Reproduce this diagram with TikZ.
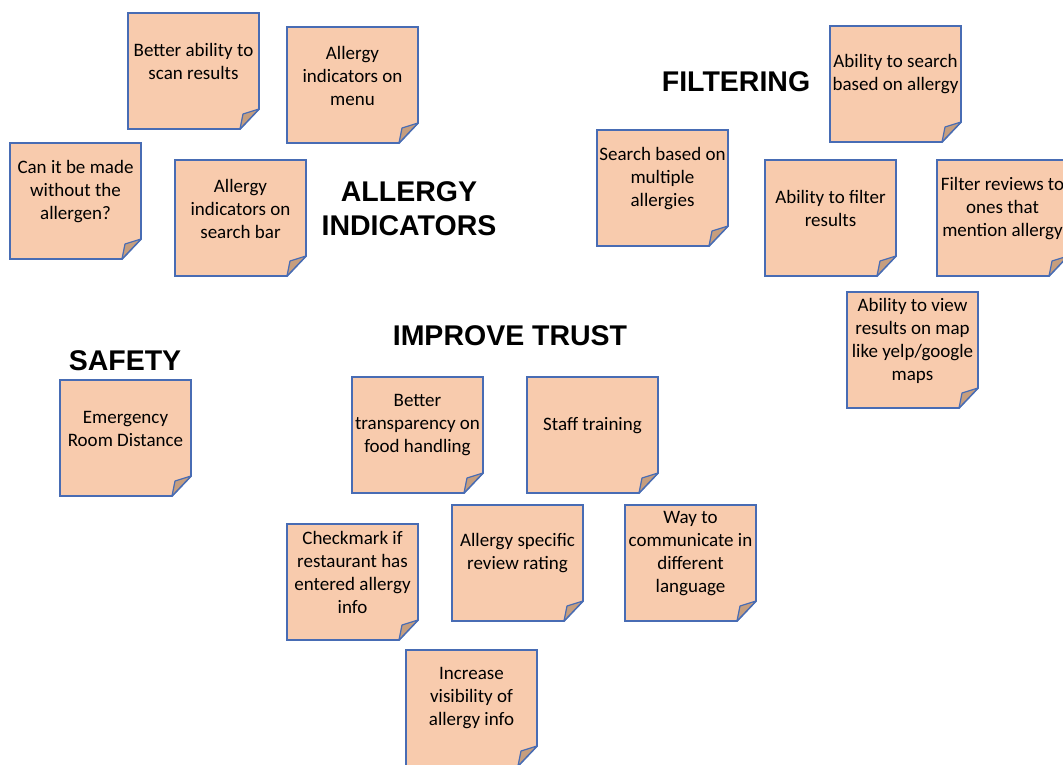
\documentclass[tikz,border=0pt]{standalone}
\usepackage{fontspec}
\setmainfont{Carlito}
\newfontfamily\headfont{Liberation Sans}
\usetikzlibrary{positioning}

\definecolor{notefill}{RGB}{248,203,173}
\definecolor{noteline}{RGB}{72,108,180}
\definecolor{foldfill}{RGB}{198,158,126}

\tikzset{
  notebox/.style={draw=noteline, fill=notefill, line width=1.8pt, line join=miter},
  notefold/.style={draw=noteline, fill=foldfill, line width=1.2pt, line join=round},
  notetext/.style={align=center, inner sep=0pt, font=\fontsize{19}{23}\selectfont},
  heading/.style={align=center, inner sep=0pt, font=\headfont\bfseries\fontsize{28.5}{34}\selectfont}
}

% sticky note: name, left, top, text
\newcommand{\stickynote}[4]{%
  \draw[notebox] (#2,#3) -- ++(131,0) -- ++(0,96) -- ++(-19,20) -- ++(-112,0) -- cycle;
  \draw[notefold] (#2+112,#3+116) -- (#2+115,#3+101) -- (#2+131,#3+96) -- cycle;
  \node[notetext] (#1) at (#2+65.5,#3+48.5) {#4};
}

\begin{document}
\begin{tikzpicture}[x=1pt, y=-1pt]
  \useasboundingbox (0,0) rectangle (1063,764);
  \clip (0,0) rectangle (1063,764);

  % allergy indicators
  \stickynote{scan}{128}{13}{Better ability to\\scan results}
  \stickynote{menu}{287}{27}{Allergy\\indicators on\\menu}
  \stickynote{allergen}{10}{143}{Can it be made\\without the\\allergen?}
  \stickynote{searchbar}{175}{160}{Allergy\\indicators on\\search bar}
  \node[heading] (indicators) at (409,209) {ALLERGY\\INDICATORS};

  % filtering
  \node[heading] (filtering) at (736,82) {FILTERING};
  \stickynote{searchallergy}{830}{26}{Ability to search\\based on allergy}
  \stickynote{multiple}{597}{130}{Search based on\\multiple\\allergies}
  \stickynote{filter}{765}{160}{Ability to filter\\results}
  \stickynote{reviews}{937}{160}{Filter reviews to\\ones that\\mention allergy}
  \stickynote{map}{847}{292}{Ability to view\\results on map\\like yelp/google\\maps}

  % safety
  \node[heading] (safety) at (125,361) {SAFETY};
  \stickynote{emergency}{60}{380}{Emergency\\Room Distance}

  % improve trust
  \node[heading] (trust) at (510,336) {IMPROVE TRUST};
  \stickynote{transparency}{352}{377}{Better\\transparency on\\food handling}
  \stickynote{staff}{527}{377}{Staff training}
  \stickynote{checkmark}{287}{524}{Checkmark if\\restaurant has\\entered allergy\\info}
  \stickynote{rating}{452}{505}{Allergy specific\\review rating}
  \stickynote{language}{625}{505}{Way to\\communicate in\\different\\language}
  \stickynote{visibility}{406}{650}{Increase\\visibility of\\allergy info}
\end{tikzpicture}
\end{document}
